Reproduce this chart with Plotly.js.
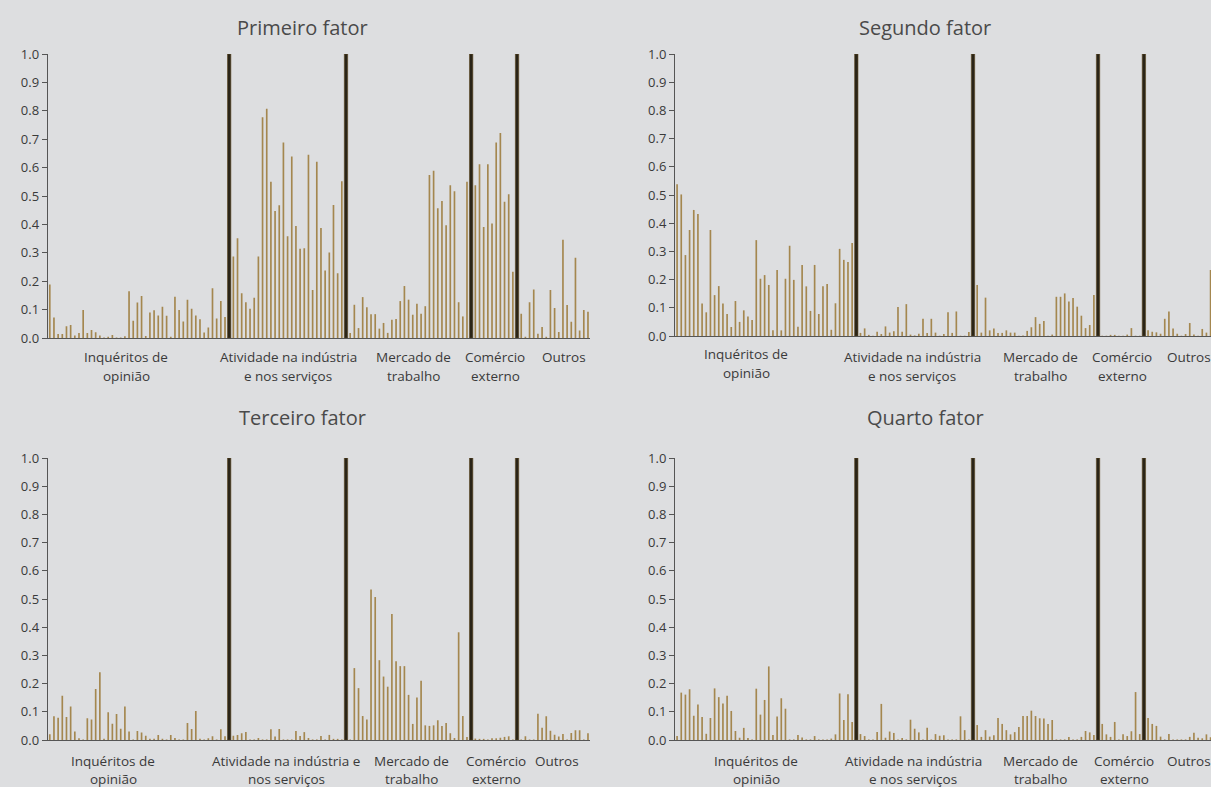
<!DOCTYPE html>
<html>
<head>
<meta charset="utf-8">
<script src="https://cdn.plot.ly/plotly-3.0.1.min.js"></script>
<style>
html,body{margin:0;padding:0;background:#dddee0;overflow:hidden;}
#chart{width:1211px;height:787px;}
</style>
</head>
<body>
<div id="chart"></div>
<script>
// ---- DATA ----
const groupNames = ["Inquéritos de opinião", "Atividade na indústria e nos serviços", "Mercado de trabalho", "Comércio externo", "Outros"];
const groupSizes = [43, 27, 29, 10, 17];
const panelTitles = ["Primeiro fator", "Segundo fator", "Terceiro fator", "Quarto fator"];

const fator1 = [
  0.188,0.072,0.014,0.014,0.041,0.046,0.009,0.018,0.099,0.018,
  0.028,0.020,0.009,0.002,0.004,0.011,0.002,0.002,0.006,0.165,
  0.061,0.125,0.148,0.007,0.090,0.098,0.079,0.110,0.078,0.004,
  0.145,0.099,0.058,0.135,0.103,0.079,0.066,0.019,0.037,0.175,
  0.069,0.130,0.074,
  0.287,0.351,0.158,0.126,0.103,0.142,0.287,0.777,0.807,0.550,
  0.447,0.467,0.688,0.358,0.639,0.394,0.314,0.316,0.645,0.169,
  0.621,0.387,0.238,0.301,0.468,0.228,0.552,
  0.018,0.117,0.035,0.144,0.108,0.084,0.084,0.033,0.053,0.018,
  0.064,0.067,0.130,0.183,0.135,0.082,0.121,0.085,0.112,0.574,
  0.589,0.457,0.482,0.397,0.538,0.517,0.126,0.076,0.550,
  0.538,0.612,0.391,0.612,0.403,0.688,0.722,0.480,0.506,0.233,
  0.085,0.004,0.126,0.171,0.015,0.039,0.004,0.169,0.106,0.021,
  0.346,0.116,0.057,0.283,0.026,0.099,0.092
];
const fator2 = [
  0.538,0.502,0.287,0.376,0.447,0.433,0.115,0.084,0.376,0.145,
  0.177,0.115,0.078,0.032,0.124,0.050,0.091,0.069,0.057,0.340,
  0.203,0.216,0.181,0.020,0.234,0.020,0.203,0.320,0.199,0.033,
  0.252,0.176,0.089,0.252,0.078,0.176,0.184,0.022,0.116,0.309,
  0.270,0.262,0.330,
  0.011,0.027,0.004,0.001,0.015,0.007,0.034,0.012,0.017,0.103,
  0.015,0.113,0.005,0.002,0.008,0.061,0.011,0.061,0.012,0.001,
  0.007,0.084,0.011,0.087,0.001,0.001,0.014,
  0.181,0.012,0.136,0.020,0.027,0.011,0.011,0.020,0.012,0.012,
  0.001,0.002,0.018,0.031,0.067,0.043,0.053,0.001,0.005,0.139,
  0.139,0.151,0.122,0.135,0.104,0.072,0.028,0.039,0.145,
  0.001,0.001,0.004,0.004,0.001,0.001,0.005,0.028,0.001,0.001,
  0.020,0.015,0.013,0.008,0.061,0.087,0.027,0.008,0.001,0.007,
  0.046,0.005,0.001,0.025,0.012,0.234,0.010
];
const fator3 = [
  0.020,0.084,0.079,0.157,0.082,0.119,0.030,0.006,0.002,0.077,
  0.073,0.181,0.240,0.004,0.098,0.058,0.092,0.040,0.119,0.030,
  0.002,0.032,0.027,0.015,0.004,0.004,0.018,0.004,0.002,0.018,
  0.007,0.002,0.002,0.060,0.039,0.103,0.004,0.002,0.006,0.013,
  0.002,0.038,0.013,
  0.015,0.018,0.024,0.028,0.002,0.002,0.007,0.002,0.002,0.038,
  0.012,0.039,0.002,0.002,0.002,0.032,0.014,0.028,0.007,0.002,
  0.002,0.014,0.002,0.018,0.004,0.004,0.002,
  0.002,0.255,0.184,0.085,0.073,0.534,0.507,0.283,0.225,0.189,
  0.447,0.279,0.262,0.262,0.160,0.057,0.151,0.210,0.052,0.050,
  0.052,0.070,0.050,0.060,0.024,0.007,0.382,0.085,0.011,
  0.005,0.004,0.004,0.002,0.006,0.006,0.008,0.011,0.013,0.002,
  0.002,0.013,0.002,0.002,0.093,0.043,0.084,0.033,0.019,0.012,
  0.021,0.002,0.025,0.035,0.035,0.002,0.024
];
const fator4 = [
  0.014,0.168,0.161,0.180,0.086,0.126,0.082,0.022,0.078,0.183,
  0.152,0.129,0.157,0.103,0.032,0.008,0.043,0.007,0.002,0.182,
  0.090,0.142,0.261,0.018,0.083,0.148,0.111,0.002,0.002,0.018,
  0.009,0.002,0.002,0.014,0.002,0.002,0.002,0.005,0.020,0.165,
  0.071,0.162,0.064,
  0.021,0.014,0.002,0.002,0.028,0.128,0.008,0.030,0.025,0.002,
  0.007,0.002,0.072,0.040,0.027,0.002,0.043,0.002,0.021,0.015,
  0.017,0.002,0.002,0.002,0.084,0.035,0.002,
  0.053,0.011,0.035,0.012,0.017,0.078,0.057,0.035,0.020,0.028,
  0.046,0.085,0.085,0.104,0.085,0.077,0.076,0.057,0.071,0.002,
  0.002,0.002,0.011,0.002,0.002,0.011,0.032,0.027,0.018,
  0.057,0.020,0.011,0.064,0.002,0.020,0.014,0.031,0.170,0.021,
  0.078,0.057,0.050,0.012,0.002,0.021,0.002,0.002,0.002,0.002,
  0.011,0.026,0.008,0.006,0.020,0.010,0.005
];
const separatorValue = 1.0;

// Group label lines per panel (wrapping as in the original)
const labelLines = [
  [["Inquéritos de","opinião"],["Atividade na indústria","e nos serviços"],["Mercado de","trabalho"],["Comércio","externo"],["Outros"]],
  [["Inquéritos de","opinião"],["Atividade na indústria","e nos serviços"],["Mercado de","trabalho"],["Comércio","externo"],["Outros"]],
  [["Inquéritos de","opinião"],["Atividade na indústria e","nos serviços"],["Mercado de","trabalho"],["Comércio","externo"],["Outros"]],
  [["Inquéritos de","opinião"],["Atividade na indústria","e nos serviços"],["Mercado de","trabalho"],["Comércio","externo"],["Outros"]]
];

// ---- LAYOUT (pixel geometry) ----
const W = 1211, H = 787;
const panels = [
  {left: 47.7, step: 4.172, bottom: 338, top: 54, titleX: 302, titleY: 27,
   labelX: [126, 288, 413, 495, 564], labelY: [357, 376]},
  {left: 675.0, step: 4.168, bottom: 336, top: 54, titleX: 925, titleY: 27,
   labelX: [746, 912, 1040, 1122, 1189], labelY: [357, 376], firstLabelY: [354, 373]},
  {left: 47.7, step: 4.172, bottom: 740, top: 458, titleX: 302, titleY: 418,
   labelX: [113, 286, 412, 496, 557], labelY: [761, 779]},
  {left: 675.0, step: 4.168, bottom: 740, top: 458, titleX: 925, titleY: 418,
   labelX: [756, 913, 1040, 1124, 1189], labelY: [761, 779]}
];
const factors = [fator1, fator2, fator3, fator4];
const barColor = '#a4874f';
const sepColor = '#2a2417';
const textColor = '#3a3a3a';
const FONT = '"Open Sans", "Noto Sans", sans-serif';

// Build x positions: one empty slot (separator) after each group except last
function buildSlots(values) {
  const x = [], y = [], sx = [], sy = [];
  let slot = 0, k = 0;
  groupSizes.forEach((n, g) => {
    for (let i = 0; i < n; i++) { x.push(slot); y.push(values[k]); slot++; k++; }
    if (g < groupSizes.length - 1) { sx.push(slot); sy.push(separatorValue); slot++; }
  });
  return {x, y, sx, sy, total: slot};
}

const traces = [];
const layout = {
  width: W, height: H,
  margin: {l: 0, r: 0, t: 0, b: 0},
  paper_bgcolor: '#dddee0',
  plot_bgcolor: '#dddee0',
  showlegend: false,
  barmode: 'overlay',
  font: {family: FONT, color: textColor, size: 13},
  annotations: []
};

panels.forEach((p, idx) => {
  const s = buildSlots(factors[idx]);
  const xa = idx === 0 ? 'x' : 'x' + (idx + 1);
  const ya = idx === 0 ? 'y' : 'y' + (idx + 1);
  const xKey = idx === 0 ? 'xaxis' : 'xaxis' + (idx + 1);
  const yKey = idx === 0 ? 'yaxis' : 'yaxis' + (idx + 1);
  let right = p.left + s.total * p.step;
  let rangeEnd = s.total - 0.5;
  if (right > W) { rangeEnd = -0.5 + (W - p.left) / p.step; right = W; }

  traces.push({type: 'bar', x: s.x, y: s.y, xaxis: xa, yaxis: ya,
    width: 0.4, marker: {color: barColor, line: {width: 0}}, hoverinfo: 'skip'});
  traces.push({type: 'bar', x: s.sx, y: s.sy, xaxis: xa, yaxis: ya,
    width: 0.8, marker: {color: sepColor, line: {color: '#5a4620', width: 0.6}}, hoverinfo: 'skip'});

  layout[xKey] = {
    domain: [p.left / W, right / W], anchor: ya,
    range: [-0.5, rangeEnd], showgrid: false, zeroline: false,
    showticklabels: false, ticks: '', showline: true, linecolor: '#555555', linewidth: 1,
    fixedrange: true
  };
  layout[yKey] = {
    domain: [1 - p.bottom / H, 1 - p.top / H], anchor: xa,
    range: [0, 1.0], dtick: 0.1, tick0: 0, tickformat: '.1f',
    showgrid: false, zeroline: false, showline: true, linecolor: '#555555', linewidth: 1,
    ticks: 'outside', ticklen: 5, tickcolor: '#555555', tickwidth: 1,
    tickfont: {family: FONT, size: 13, color: textColor}, fixedrange: true
  };

  layout.annotations.push({text: panelTitles[idx], xref: 'paper', yref: 'paper',
    x: p.titleX / W, y: 1 - p.titleY / H, xanchor: 'center', yanchor: 'middle',
    showarrow: false, font: {family: FONT, size: 20, color: '#4a4a4a'}});

  labelLines[idx].forEach((lines, g) => {
    lines.forEach((t, li) => {
      let yy = p.labelY[li];
      if (g === 0 && p.firstLabelY) yy = p.firstLabelY[li];
      layout.annotations.push({text: t, xref: 'paper', yref: 'paper',
        x: p.labelX[g] / W, y: 1 - yy / H, xanchor: 'center', yanchor: 'middle',
        showarrow: false, font: {family: FONT, size: 13.5, color: textColor}});
    });
  });
});

Plotly.newPlot('chart', traces, layout, {displayModeBar: false, staticPlot: true});
</script>
</body>
</html>
